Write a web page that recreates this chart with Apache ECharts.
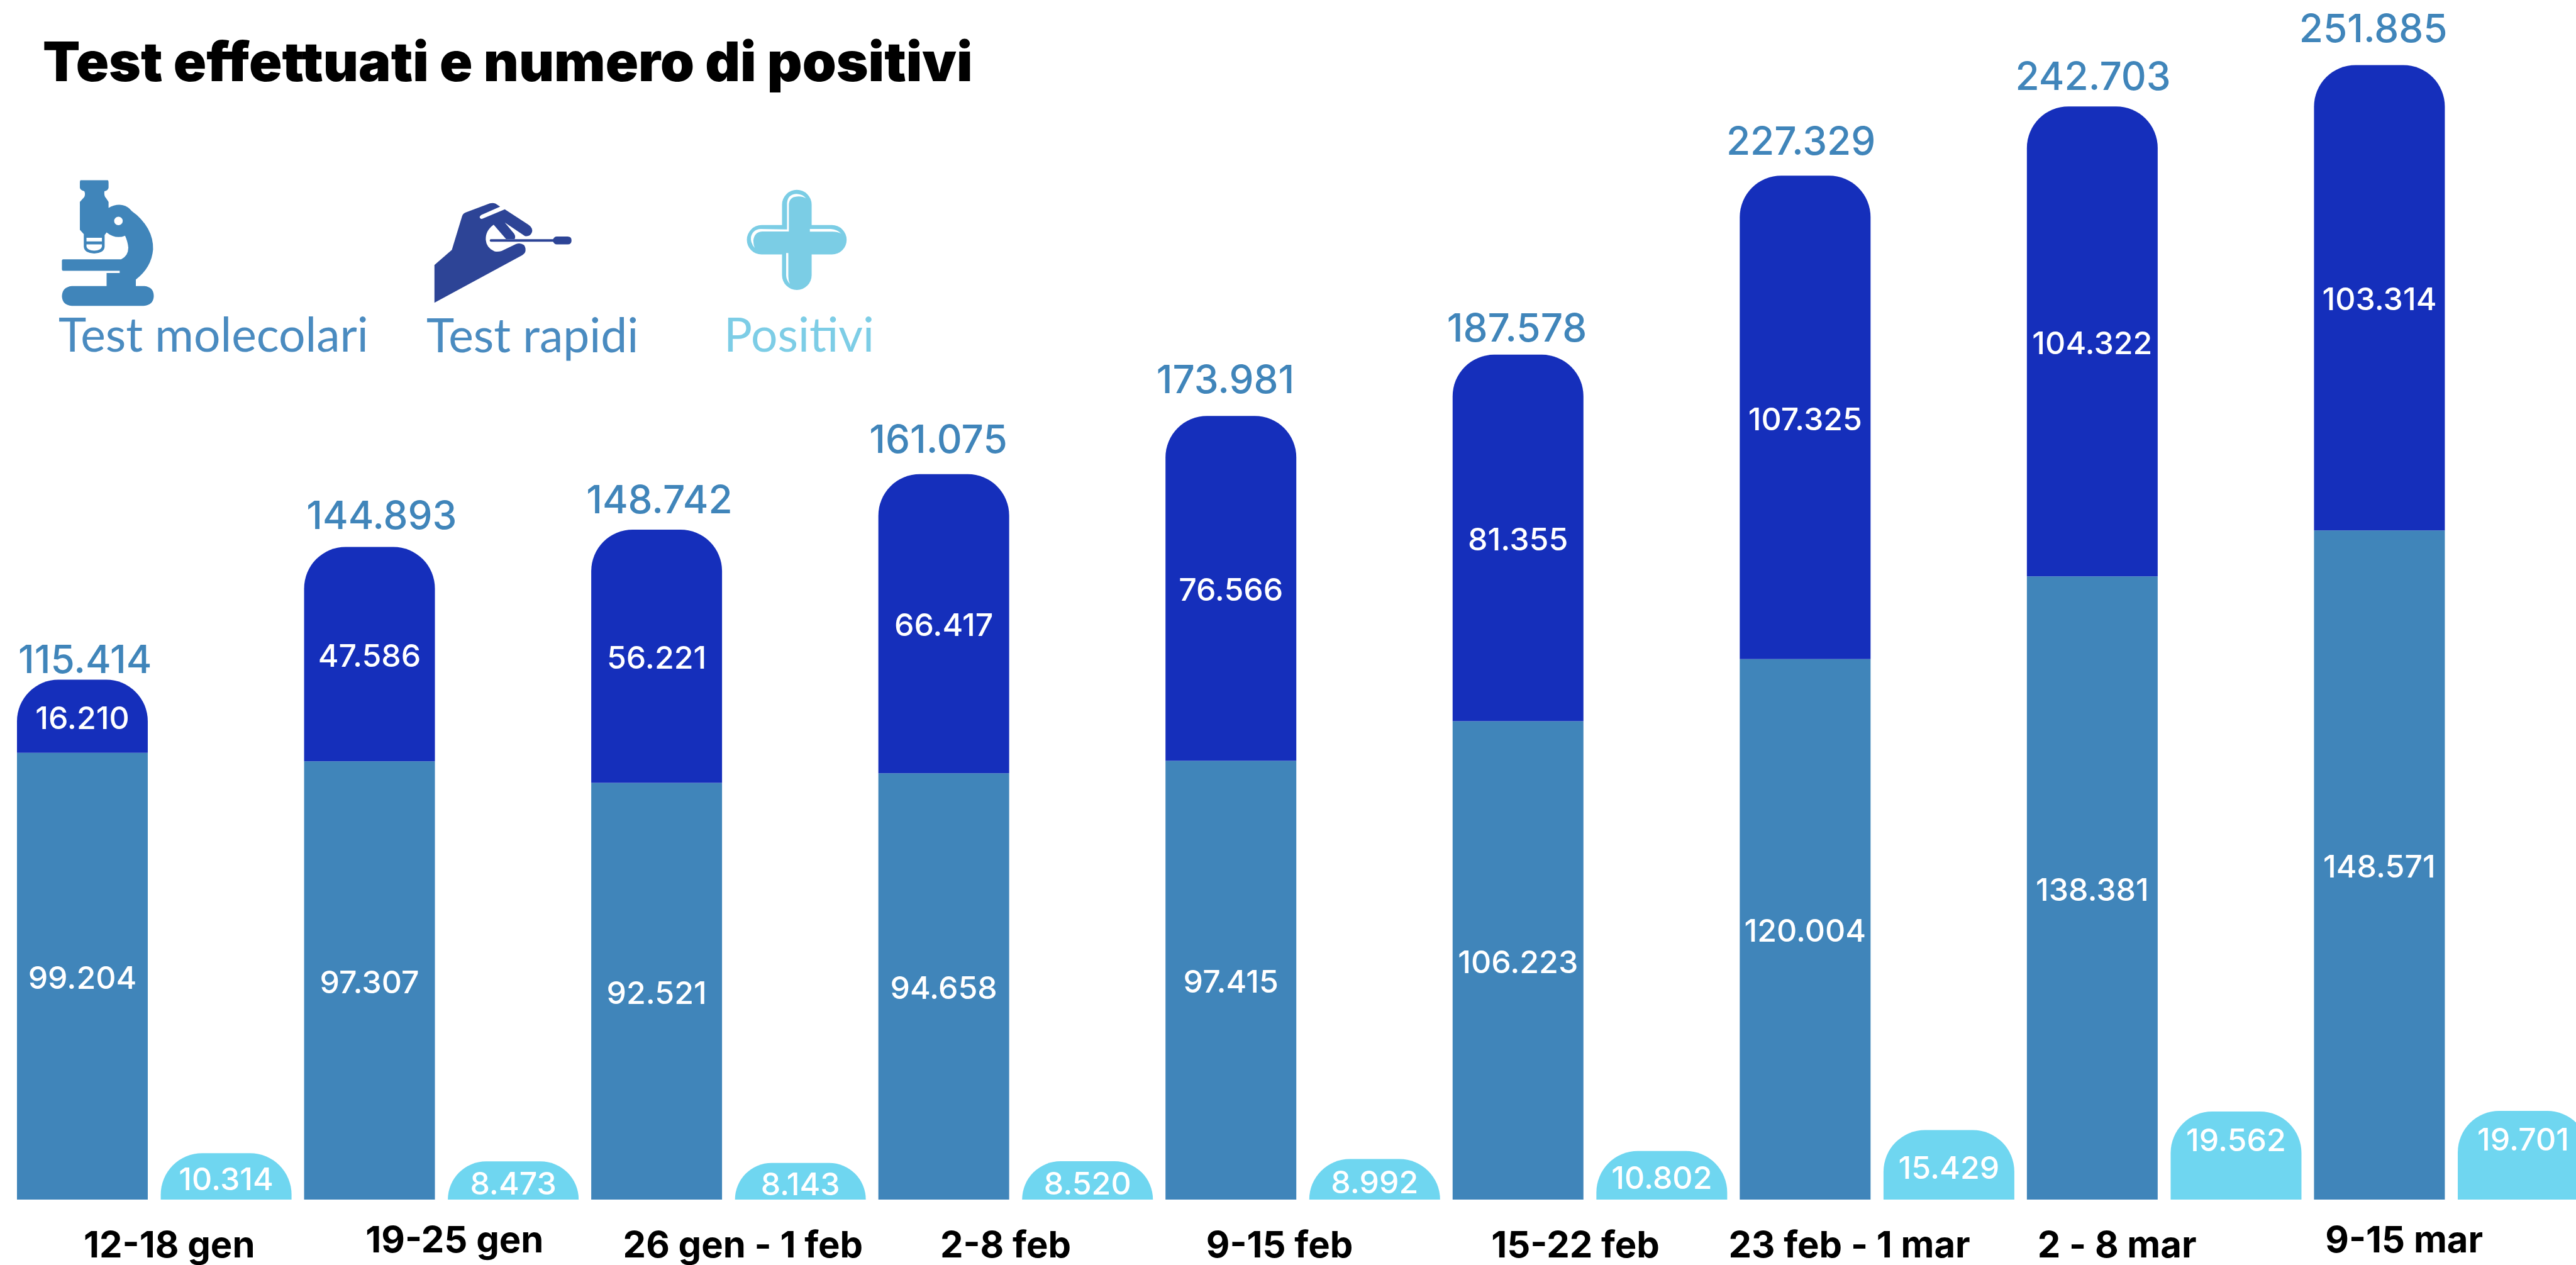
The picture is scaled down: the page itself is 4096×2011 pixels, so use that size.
<!DOCTYPE html>
<html>
<head>
<meta charset="utf-8">
<style>html,body{margin:0;padding:0;background:#fff;overflow:hidden}#c{width:4096px;height:2011px}</style>
<script src="https://cdn.jsdelivr.net/npm/echarts@6/dist/echarts.min.js"></script>
</head>
<body>
<div id="c"></div>
<script>
const categories = ['12-18 gen','19-25 gen','26 gen - 1 feb','2-8 feb','9-15 feb','15-22 feb','23 feb - 1 mar','2 - 8 mar','9-15 mar'];
const molecolari = [99204,97307,92521,94658,97415,106223,120004,138381,148571];
const rapidi = [16210,47586,56221,66417,76566,81355,107325,104322,103314];
const positivi = [10314,8473,8143,8520,8992,10802,15429,19562,19701];
const totali = [115414,144893,148742,161075,173981,187578,227329,242703,251885];

// hand placement of the labels in the source graphic
const totalNudgeX = [3,18,3,-10,-10,-3,-8,0,-11];
const totalLift = [34,52,50,57,60,45,57,50,60];
const tickNudgeX = [24,21,23,-16,-37,-23,-44,-75,-75];
const tickRaised = [false,true,false,false,false,false,false,false,true];

const BLUE='#4085ba', DARK='#152fbb', SKY='#6fd6f0';
const fmt = v => String(v).replace(/\B(?=(\d{3})+$)/g,'.');
const VALUE_FONT = {fontFamily:'Inter',fontWeight:500,fontSize:50,color:'#fff'};

const g = echarts.graphic;
const shapes = {
 micro:'M150 44 L300 44 Q305 44 305 60 L305 85 Q303 102 282 105 Q278 130 290 142 L305 165 L305 198 Q345 175 385 183 Q415 190 435 217 Q490 255 525 315 Q555 370 553 430 Q545 530 457 598 L457 634 L505 634 Q557 640 557 690 Q555 740 500 744 L100 744 Q47 740 45 690 Q47 640 100 634 L294 634 L294 561 L367 561 L367 549 L52 549 Q45 549 45 540 L45 492 Q45 485 52 485 L375 485 Q415 465 415 420 Q412 385 397 353 Q345 375 294 335 L283 350 L283 415 Q280 450 225 452 Q170 450 167 415 L167 345 L145 320 L145 165 L168 140 Q178 125 170 105 Q147 100 145 85 L145 60 Q145 44 150 44 Z',
 microLens:'M182 365 L268 365 L268 385 L182 385 Z M182 402 L268 402 L268 415 Q262 435 225 437 Q188 435 182 415 Z M336 271 A24 24 0 1 0 384 271 A24 24 0 1 0 336 271 Z',
 hand:'M51 396 L148 312 L205 125 Q210 110 225 104 L360 53 Q378 48 392 55 L417 71 L312 118 Q298 128 306 136 Q312 142 322 137 L443 86 L575 172 Q600 190 595 212 Q585 240 555 235 L443 160 L495 222 Q505 238 498 252 L450 252 L381 172 Q335 205 337 255 Q340 300 385 320 Q405 325 425 318 L505 280 Q530 270 550 285 Q565 305 555 328 Q550 335 540 342 L51 607 Z',
 swab:'M366 253 L712 253 Q720 238 732 238 L793 238 Q815 238 815 260 Q815 282 793 282 L732 282 Q720 282 712 267 L366 267 Q359 267 359 260 Q359 253 366 253 Z',
 cross:'M248 120 A82 82 0 0 1 413 120 L413 234 L526 234 A82 82 0 0 1 526 398 L413 398 L413 513 A82 82 0 0 1 248 513 L248 398 L134 398 A82 82 0 0 1 134 234 L248 234 Z',
 crossShine:'M276 258 L276 110 Q280 62 330 60 Q365 62 382 85 Q360 72 330 75 Q288 78 286 120 L286 270 L140 270 Q95 270 88 320 Q88 345 96 362 Q70 330 75 300 Q85 258 130 256 Z M403 256 L520 256 Q555 258 578 282 Q555 270 525 271 L403 271 Z M271 390 L283 390 L283 520 Q283 545 292 562 Q272 540 271 515 Z'
};
Object.keys(shapes).forEach(k => g.registerShape(k, g.extendPath(shapes[k], {})));
const icon = (rx, ry, parts) => ({type:'group', x:rx*0.856, y:ry*0.856, scaleX:0.856/3, scaleY:0.856/3, silent:true,
  children:parts.map(p=>({type:p[0], style:{fill:p[1]}}))});
const legendText = (text,x,y,fill) => ({type:'text', x, y, silent:true,
  style:{text, fill, font:'400 75px Lato', textBaseline:'alphabetic', textVerticalAlign:'bottom'}});

const valueLabel = {show:true, position:'inside', offset:[0,5], formatter:p=>fmt(p.value), ...VALUE_FONT};
const RADIUS = [66,66,0,0];

const chart = echarts.init(document.getElementById('c'), null, {renderer:'canvas'});
chart.setOption({
  animation:false,
  backgroundColor:'#fff',
  title:{text:'Test effettuati e numero di positivi', left:63, top:54,
    textStyle:{fontFamily:'Inter',fontWeight:900,fontSize:86.5,color:'#000'}},
  grid:{left:17, top:45.3, width:4109, height:1861.7, containLabel:false, outerBoundsMode:'none'},
  xAxis:{type:'category', data:categories, axisLine:{show:false}, axisTick:{show:false},
    axisLabel:{interval:0, margin:38, hideOverlap:false,
      formatter:(v,i)=>`{n${i}|${v}}`,
      rich:Object.fromEntries(categories.map((c,i)=>{
        const d=tickNudgeX[i];
        return ['n'+i,{fontFamily:'Inter',fontWeight:700,fontSize:58,color:'#000',
          padding:[tickRaised[i]?0:8, d<0?-2*d:0, 0, d>0?2*d:0]}];
      }))}},
  yAxis:{type:'value', min:0, max:260000, show:false},
  series:[
    {name:'Test molecolari', type:'bar', stack:'test', barWidth:208, barGap:'9.9%', data:molecolari,
      itemStyle:{color:BLUE}, label:valueLabel},
    {name:'Test rapidi', type:'bar', stack:'test', barWidth:208, barGap:'9.9%', data:rapidi,
      itemStyle:{color:DARK, borderRadius:RADIUS}, label:valueLabel},
    {name:'Positivi', type:'bar', stack:'pos', barWidth:208, barGap:'9.9%',
      data:positivi.map(v=>({value:v,label:{offset:[0,v>18000?-22:7]}})),
      itemStyle:{color:SKY, borderRadius:RADIUS}, label:valueLabel},
    {name:'Totale', type:'scatter', symbolSize:1, itemStyle:{color:'transparent', opacity:1},
      data:totali.map((v,i)=>({value:v,label:{offset:[-113+totalNudgeX[i],5-totalLift[i]]}})),
      label:{show:true, position:'inside', formatter:p=>fmt(p.value), fontFamily:'Inter',fontWeight:500,fontSize:62,color:BLUE}}
  ],
  graphic:[
    icon(100,320,[['micro',BLUE],['microLens','#fff']]),
    icon(790,360,[['hand','#2d4496'],['swab','#2d4496']]),
    icon(1370,340,[['cross','#7bcde5'],['crossShine','#fff']]),
    legendText('Test molecolari',93,572,'#4a8bc0'),
    legendText('Test rapidi',678,573,'#4a8bc0'),
    legendText('Positivi',1151,572,'#7dcde6')
  ]
});
</script>
</body>
</html>
